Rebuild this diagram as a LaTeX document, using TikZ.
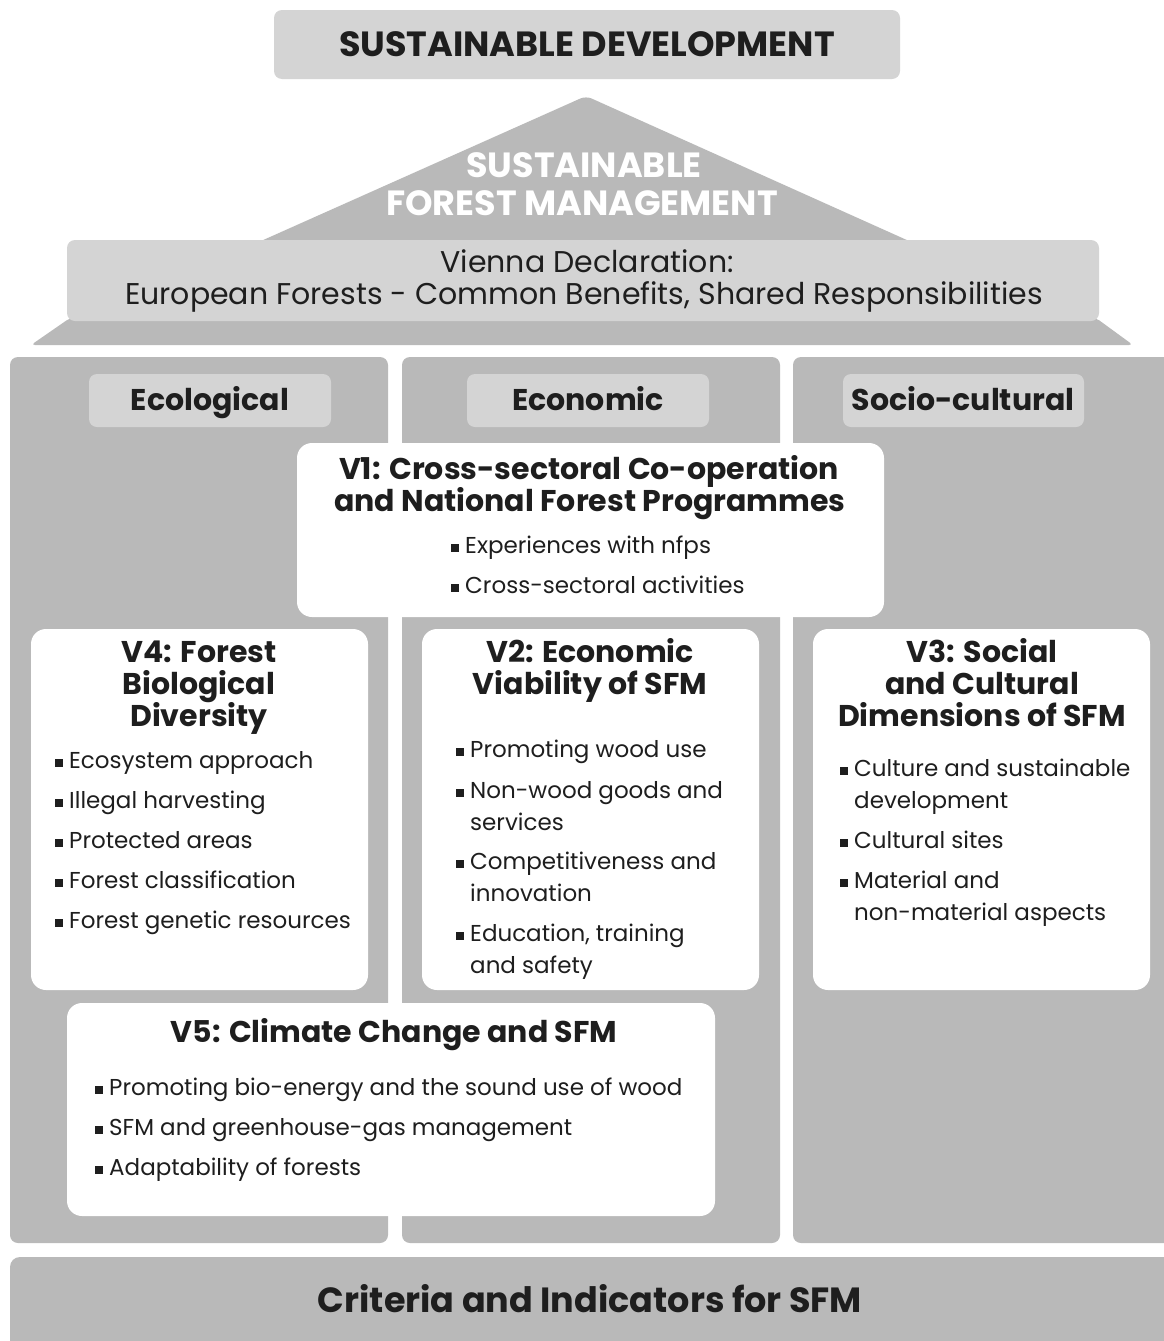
\documentclass[tikz,border=0pt]{standalone}
\usepackage{fontspec}
\setmainfont{Poppins}
\definecolor{pillar}{HTML}{B9B9B9}
\definecolor{pale}{HTML}{D4D4D4}
\definecolor{ink}{HTML}{1E1E1E}
\newcommand\bul{\llap{\raisebox{1pt}{\rule{8.5pt}{8.5pt}}\hspace{6pt}}}
\newcommand\bitem[4]{\node[item, anchor=base west] (#1) at (#2,#3) {\bul #4};}
\newcommand\citem[4]{\node[item, anchor=base west] (#1) at (#2,#3) {#4};}
\begin{document}
\begin{tikzpicture}[x=1pt,y=-1pt,
  txt/.style={inner sep=0pt, text=ink},
  item/.style={txt, font=\fontsize{23}{23}\selectfont},
  ttl/.style={txt, anchor=base, font=\fontsize{30}{30}\selectfont\bfseries},
  big/.style={txt, anchor=base, font=\fontsize{35}{35}\selectfont\bfseries},
  panel/.style={fill=pillar, rounded corners=8pt},
  label box/.style={fill=pale, rounded corners=8pt},
  card/.style={fill=white, rounded corners=15pt}]
\useasboundingbox (0,0) rectangle (1163,1341);
\fill[white] (0,0) rectangle (1163,1341);

% goal at the top
\fill[label box] (274,10) rectangle (900,79);
\node[big] (sd) at (587,56) {SUSTAINABLE DEVELOPMENT};

% roof and its base
\fill[pillar] (261,241) [rounded corners=6pt] -- (586,96) [sharp corners] -- (909,241) -- cycle;
\node[big, text=white] (sfm1) at (584,177) {SUSTAINABLE};
\node[big, text=white] (sfm2) at (582,215) {FOREST MANAGEMENT};
\fill[pillar, rounded corners=4pt] (70,318) -- (1096,318) -- (1133,345) -- (31,345) -- cycle;
\fill[label box] (67,240) rectangle (1099,321);
\node[txt, anchor=base, font=\fontsize{30}{30}\selectfont] (vd1) at (587,272) {Vienna Declaration:};
\node[txt, anchor=base, font=\fontsize{30}{30}\selectfont] (vd2) at (584,304) {European Forests - Common Benefits, Shared Responsibilities};

% three pillars
\fill[panel] (10,357) rectangle (388,1243);
\fill[panel] (402,357) rectangle (780,1243);
\fill[panel] (793,357) rectangle (1175,1243);
\fill[label box] (89,374) rectangle (331,427);
\fill[label box] (467,374) rectangle (709,427);
\fill[label box] (843,374) rectangle (1084,427);
\node[ttl] (eco) at (210,410) {Ecological};
\node[ttl] (econ) at (588,410) {Economic};
\node[ttl] (soc) at (963,410) {Socio-cultural};

% foundation
\fill[pillar, rounded corners=10pt] (10,1257) rectangle (1175,1360);
\node[big] (ci) at (590,1312) {Criteria and Indicators for SFM};

% resolution cards
\fill[card] (297,443) rectangle (884,617);
\fill[card] (31,629) rectangle (368,990);
\fill[card] (422,629) rectangle (759,990);
\fill[card] (813,629) rectangle (1150,990);
\fill[card] (67,1003) rectangle (715,1216);

% V1
\node[ttl] (v1a) at (589,479) {V1: Cross-sectoral Co-operation};
\node[ttl] (v1b) at (590,511) {and National Forest Programmes};
\bitem{v1i1}{465}{553}{Experiences with nfps}
\bitem{v1i2}{465}{593}{Cross-sectoral activities}

% V4
\node[ttl] (v4a) at (199,662) {V4: Forest};
\node[ttl] (v4b) at (199,694) {Biological};
\node[ttl] (v4c) at (199,726) {Diversity};
\bitem{v4i1}{69}{768}{Ecosystem approach}
\bitem{v4i2}{69}{808}{Illegal harvesting}
\bitem{v4i3}{69}{848}{Protected areas}
\bitem{v4i4}{69}{888}{Forest classification}
\bitem{v4i5}{69}{928}{Forest genetic resources}

% V2
\node[ttl] (v2a) at (590,662) {V2: Economic};
\node[ttl] (v2b) at (590,694) {Viability of SFM};
\bitem{v2i1}{470}{757}{Promoting wood use}
\bitem{v2i2}{470}{798}{Non-wood goods and}
\citem{v2i2b}{470}{830}{services}
\bitem{v2i3}{470}{869}{Competitiveness and}
\citem{v2i3b}{470}{901}{innovation}
\bitem{v2i4}{470}{941}{Education, training}
\citem{v2i4b}{470}{973}{and safety}

% V3
\node[ttl] (v3a) at (982,662) {V3: Social};
\node[ttl] (v3b) at (982,694) {and Cultural};
\node[ttl] (v3c) at (982,726) {Dimensions of SFM};
\bitem{v3i1}{854}{776}{Culture and sustainable}
\citem{v3i1b}{854}{808}{development}
\bitem{v3i2}{854}{848}{Cultural sites}
\bitem{v3i3}{854}{888}{Material and}
\citem{v3i3b}{854}{920}{non-material aspects}

% V5
\node[ttl] (v5a) at (394,1042) {V5: Climate Change and SFM};
\bitem{v5i1}{109}{1095}{Promoting bio-energy and the sound use of wood}
\bitem{v5i2}{109}{1135}{SFM and greenhouse-gas management}
\bitem{v5i3}{109}{1175}{Adaptability of forests}
\end{tikzpicture}
\end{document}
